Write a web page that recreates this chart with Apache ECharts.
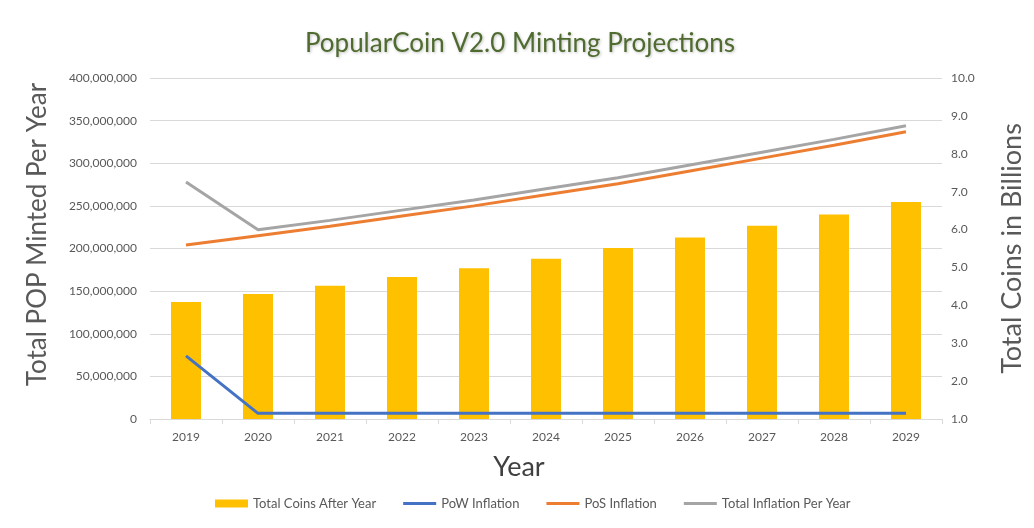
<!DOCTYPE html>
<html>
<head>
<meta charset="utf-8">
<script src="https://cdn.jsdelivr.net/npm/echarts@6/dist/echarts.min.js"></script>
<style>
html,body{margin:0;padding:0;background:#fff;}
#chart{width:1034px;height:528px;}
</style>
</head>
<body>
<div id="chart"></div>
<script>
const years = ['2019','2020','2021','2022','2023','2024','2025','2026','2027','2028','2029'];
const totalCoinsBillions = [4.09, 4.30, 4.52, 4.75, 4.98, 5.23, 5.51, 5.79, 6.10, 6.40, 6.73];
const powInflation = [74000000, 6600000, 6600000, 6600000, 6600000, 6600000, 6600000, 6600000, 6600000, 6600000, 6600000];
const posInflation = [204000000, 215000000, 226000000, 238000000, 250000000, 263000000, 276000000, 291000000, 306000000, 321000000, 337000000];
const totalInflation = [278000000, 222000000, 233000000, 245000000, 257000000, 270000000, 283000000, 298000000, 313000000, 328000000, 344000000];
const seriesNames = ['Total Coins After Year', 'PoW Inflation', 'PoS Inflation', 'Total Inflation Per Year'];

const FONT = 'Lato, "Open Sans", sans-serif';
const chart = echarts.init(document.getElementById('chart'));
const lineIcon = 'path://M0,0L33,0L33,3L0,3Z';
chart.setOption({
  backgroundColor: '#ffffff',
  animation: false,
  title: {
    text: 'PopularCoin V2.0 Minting Projections',
    left: 515, top: 26, textAlign: 'center',
    textStyle: {fontFamily: FONT, fontSize: 26, fontWeight: 'normal', color: '#4F6B2F',
      textShadowColor: 'rgba(0,0,0,0.25)', textShadowBlur: 3, textShadowOffsetX: 1, textShadowOffsetY: 1}
  },
  grid: {left: 150, right: 79, top: 78, bottom: 109, containLabel: false},
  legend: {
    bottom: 13, left: 210,
    itemWidth: 33, itemHeight: 8, itemGap: 27,
    textStyle: {fontFamily: FONT, fontSize: 13, color: '#595959'},
    data: [
      {name: seriesNames[0], icon: 'rect'},
      {name: seriesNames[1], icon: lineIcon},
      {name: seriesNames[2], icon: lineIcon},
      {name: seriesNames[3], icon: lineIcon}
    ]
  },
  xAxis: {
    type: 'category', data: years,
    name: 'Year', nameLocation: 'middle', nameGap: 35,
    nameTextStyle: {fontFamily: FONT, fontSize: 27, color: '#404040', padding: [0, 54, 0, 0]},
    axisLine: {lineStyle: {color: '#d9d9d9'}},
    axisTick: {show: true, length: 5, lineStyle: {color: '#d9d9d9'}},
    axisLabel: {fontFamily: FONT, fontSize: 12, color: '#595959', margin: 12}
  },
  yAxis: [
    {
      type: 'value', min: 0, max: 400000000, interval: 50000000,
      name: 'Total POP Minted Per Year', nameLocation: 'middle', nameGap: 99, nameRotate: 90,
      nameTextStyle: {fontFamily: FONT, fontSize: 26, color: '#595959', padding: [0, 0, 0, 28]},
      axisLine: {show: false}, axisTick: {show: false},
      axisLabel: {fontFamily: FONT, fontSize: 12, color: '#595959', margin: 13,
        formatter: v => v === 0 ? '0' : v.toLocaleString('en-US')},
      splitLine: {lineStyle: {color: '#d9d9d9'}}
    },
    {
      type: 'value', min: 1, max: 10, interval: 1, position: 'right',
      name: 'Total Coins in Billions', nameLocation: 'middle', nameGap: 57, nameRotate: 90,
      nameTextStyle: {fontFamily: FONT, fontSize: 27, color: '#595959', padding: [0, 0, 0, 0]},
      axisLine: {show: false}, axisTick: {show: false},
      axisLabel: {fontFamily: FONT, fontSize: 12, color: '#595959', margin: 9,
        formatter: v => v.toFixed(1)},
      splitLine: {show: false}
    }
  ],
  series: [
    {name: seriesNames[0], type: 'bar', yAxisIndex: 1, data: totalCoinsBillions,
      barWidth: 30, itemStyle: {color: '#FFC000'}, z: 1},
    {name: seriesNames[1], type: 'line', yAxisIndex: 0, data: powInflation,
      symbol: 'none', lineStyle: {color: '#4472C4', width: 3}, itemStyle: {color: '#4472C4'}, z: 3},
    {name: seriesNames[2], type: 'line', yAxisIndex: 0, data: posInflation,
      symbol: 'none', lineStyle: {color: '#ED7D31', width: 3}, itemStyle: {color: '#ED7D31'}, z: 3},
    {name: seriesNames[3], type: 'line', yAxisIndex: 0, data: totalInflation,
      symbol: 'none', lineStyle: {color: '#A5A5A5', width: 3}, itemStyle: {color: '#A5A5A5'}, z: 3}
  ]
});
</script>
</body>
</html>
